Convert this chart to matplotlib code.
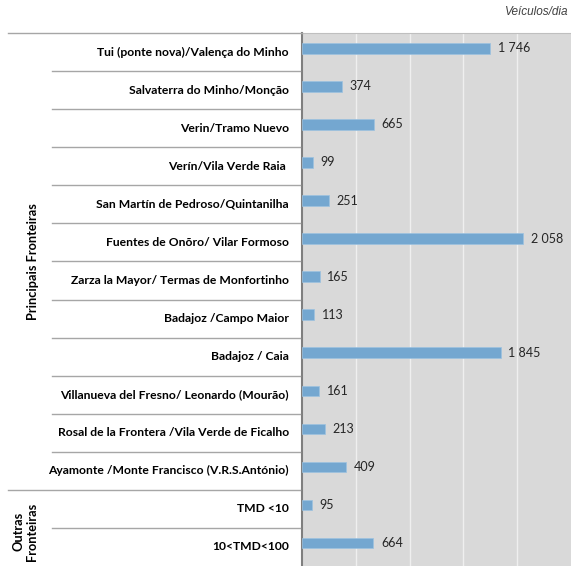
import matplotlib
matplotlib.use("Agg")
import matplotlib.pyplot as plt
import numpy as np

# data
categories = ["Tui (ponte nova)/Valença do Minho",
              "Salvaterra do Minho/Monção",
              "Verin/Tramo Nuevo",
              "Verín/Vila Verde Raia ",
              "San Martín de Pedroso/Quintanilha",
              "Fuentes de Onõro/ Vilar Formoso",
              "Zarza la Mayor/ Termas de Monfortinho",
              "Badajoz /Campo Maior",
              "Badajoz / Caia",
              "Villanueva del Fresno/ Leonardo (Mourão)",
              "Rosal de la Frontera /Vila Verde de Ficalho",
              "Ayamonte /Monte Francisco (V.R.S.António)",
              "TMD <10",
              "10<TMD<100"]
values = [1746, 374, 665, 99, 251, 2058, 165, 113, 1845, 161, 213, 409, 95, 664]
groups = ["Principais Fronteiras", "Outras\nFronteiras"]
group_sizes = [12, 2]

narrow = ["Lato", "DejaVu Sans"]

W, H = 571, 566
top = 33
n = len(values)
y = np.arange(n)

fig = plt.figure(figsize=(W/100, H/100), dpi=100)

# chart area
ax = fig.add_axes([302/W, 0, 1-302/W, 1-top/H])
ax.set_facecolor("#D9D9D9")
ax.barh(y, values, height=0.28, color="#74A7D0", edgecolor="#9CC2E0",
        linewidth=0.5, zorder=3)
ax.set_xlim(0, 2500)
ax.set_xticks([500, 1000, 1500, 2000])
ax.set_ylim(n-0.5+0.1, -0.5+0.1)
ax.grid(axis="x", color="#EFEFEF", lw=1, zorder=0)
ax.tick_params(left=False, bottom=False, labelleft=False, labelbottom=False)
for s in ["right", "bottom"]:
    ax.spines[s].set_visible(False)
ax.spines["left"].set_color("#7F7F7F")
ax.spines["left"].set_linewidth(1.5)
ax.spines["top"].set_color("#BFBFBF")

for i, v in enumerate(values):
    ax.annotate(f"{v:,}".replace(",", " "), (v, i), xytext=(5.5, 0),
                textcoords="offset points", va="center", fontsize=9,
                color="#262626", family=narrow)

# label table on the left
lab = fig.add_axes([0, 0, 302/W, 1-top/H])
lab.set_xlim(0, 302)
lab.set_ylim(n-0.5, -0.5)
lab.axis("off")

lab.plot([8, 302], [-0.5, -0.5], color="#A6A6A6", lw=1, clip_on=False)
ends = np.cumsum(group_sizes)
for k in range(1, n):
    x0 = 8 if k in ends else 52
    lab.plot([x0, 300], [k-0.5, k-0.5], color="#A6A6A6", lw=1, clip_on=False)

for i, c in enumerate(categories):
    lab.text(289, i, c, ha="right", va="center", fontsize=8.75,
             fontweight="bold", color="#000000", family=narrow)

lab.text(33, 5.5, groups[0], rotation=90, ha="center", va="center",
         fontsize=9.2, fontweight="bold", family=narrow)
lab.text(25, 12.6, groups[1], rotation=90, ha="center", va="center",
         fontsize=9.2, fontweight="bold", family=narrow,
         linespacing=1.15)

fig.text(568/W, 1-12/H, "Veículos/dia", ha="right", va="center",
         style="italic", fontsize=8.5, color="#404040",
         family=["Liberation Sans", "DejaVu Sans"])

fig.savefig("out.png", dpi=100)
